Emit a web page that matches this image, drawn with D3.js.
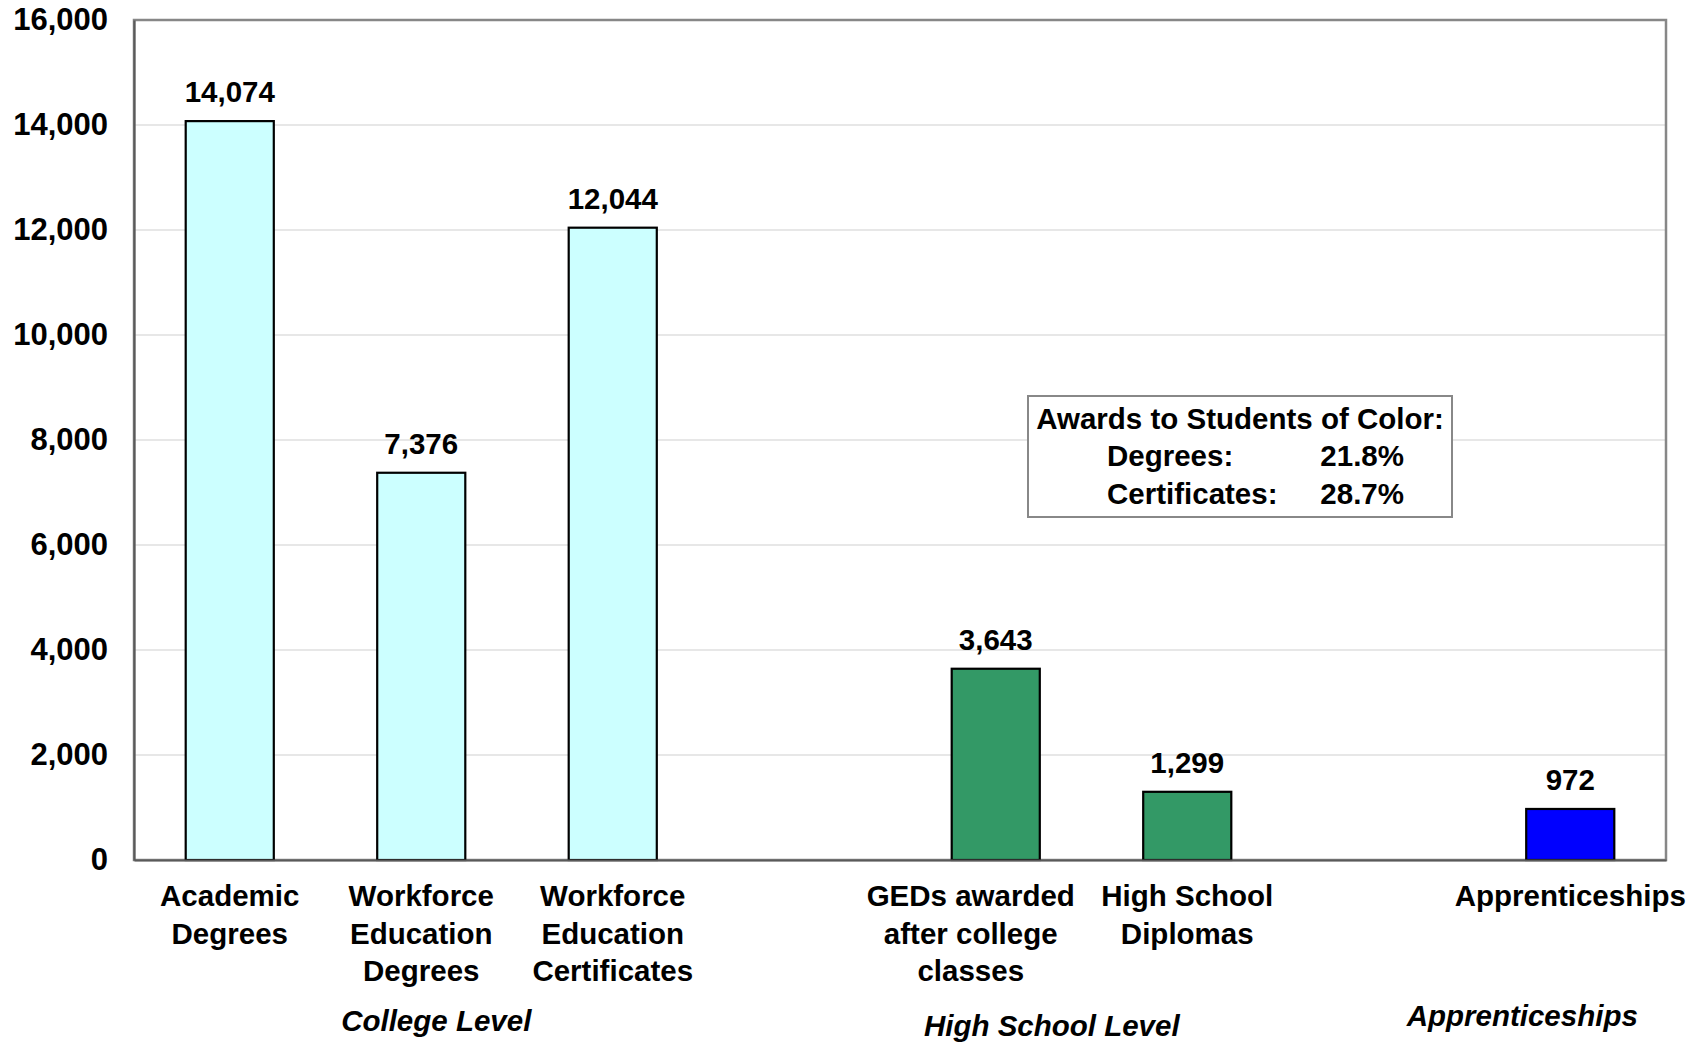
<!DOCTYPE html>
<html>
<head>
<meta charset="utf-8">
<script src="https://cdn.jsdelivr.net/npm/d3@7"></script>
<style>
  html, body { margin: 0; padding: 0; background: #fff; }
  svg { display: block; font-family: Arial, "Liberation Sans", Helvetica, sans-serif; }
</style>
</head>
<body>
<svg id="chart" width="1702" height="1044"></svg>
<script>
// ---- data ----
const categories = ["Academic Degrees", "Workforce Education Degrees", "Workforce Education Certificates", "gap1",
                    "GEDs awarded after college classes", "High School Diplomas", "gap2", "Apprenticeships"];
const categoryLines = [["Academic", "Degrees"], ["Workforce", "Education", "Degrees"], ["Workforce", "Education", "Certificates"], [],
                       ["GEDs awarded", "after college", "classes"], ["High School", "Diplomas"], [], ["Apprenticeships"]];
const values = [14074, 7376, 12044, null, 3643, 1299, null, 972];
const barColors = ["#CCFFFF", "#CCFFFF", "#CCFFFF", null, "#339966", "#339966", null, "#0000FF"];
const yTicks = [0, 2000, 4000, 6000, 8000, 10000, 12000, 14000, 16000];
const groupLabels = ["College Level", "High School Level", "Apprenticeships"];
const boxTitle = "Awards to Students of Color:";
const boxRows = ["Degrees:", "Certificates:"];
const boxValues = ["21.8%", "28.7%"];

// ---- layout ----
const W = 1702, H = 1044;
const margin = { top: 20, right: 36, bottom: 184, left: 134 };
const iw = W - margin.left - margin.right;
const ih = H - margin.top - margin.bottom;
const FS = 29.5;

const svg = d3.select("#chart");
const g = svg.append("g").attr("transform", `translate(${margin.left},${margin.top})`);

const x = d3.scaleBand().domain(categories).range([0, iw]).paddingInner(0.54).paddingOuter(0.27);
const y = d3.scaleLinear().domain([0, 16000]).range([ih, 0]);

// gridlines
g.append("g").selectAll("line").data(yTicks.filter(t => t > 0 && t < 16000)).join("line")
  .attr("x1", 0).attr("x2", iw)
  .attr("y1", d => y(d)).attr("y2", d => y(d))
  .attr("stroke", "#cfcfcf").attr("stroke-width", 1.2);

// plot frame (top / right)
g.append("rect").attr("x", 0).attr("y", 0).attr("width", iw).attr("height", ih)
  .attr("fill", "none").attr("stroke", "#878787").attr("stroke-width", 2.5);

// bars
const data = categories.map((c, i) => ({ c, v: values[i], color: barColors[i], lines: categoryLines[i] }));
const barData = data.filter(d => d.v != null);
g.append("g").selectAll("rect").data(barData).join("rect")
  .attr("x", d => x(d.c))
  .attr("y", d => y(d.v))
  .attr("width", x.bandwidth())
  .attr("height", d => y(0) - y(d.v))
  .attr("fill", d => d.color)
  .attr("stroke", "#000").attr("stroke-width", 2.2);

// value labels
g.append("g").selectAll("text").data(barData).join("text")
  .attr("x", d => x(d.c) + x.bandwidth() / 2)
  .attr("y", d => y(d.v) - 19)
  .attr("text-anchor", "middle")
  .attr("font-size", FS).attr("font-weight", "bold").attr("fill", "#000")
  .text(d => d3.format(",")(d.v));

// y axis
const yAxis = d3.axisLeft(y).tickValues(yTicks).tickFormat(d3.format(",")).tickSize(0).tickPadding(26);
const ya = g.append("g").call(yAxis);
ya.select(".domain").attr("stroke", "#5a5a5a").attr("stroke-width", 2.2);
ya.selectAll("text").attr("font-size", 31).attr("font-weight", "bold").attr("fill", "#000")
  .attr("font-family", "Arial, 'Liberation Sans', sans-serif");

// x axis
const xAxis = d3.axisBottom(x).tickSize(0).tickFormat("");
const xa = g.append("g").attr("transform", `translate(0,${ih})`).call(xAxis);
xa.select(".domain").attr("stroke", "#5a5a5a").attr("stroke-width", 2.2);

// category labels (multi-line)
const labelOffsets = { "GEDs awarded after college classes": -25 };
const catG = g.append("g");
data.forEach(d => {
  if (!d.lines.length) return;
  const t = catG.append("text")
    .attr("text-anchor", "middle")
    .attr("font-size", FS).attr("font-weight", "bold").attr("fill", "#000")
    .attr("transform", `translate(${x(d.c) + x.bandwidth() / 2 + (labelOffsets[d.c] || 0)},${ih + 46})`);
  d.lines.forEach((ln, j) => t.append("tspan").attr("x", 0).attr("y", j * 37.5).text(ln));
});

// group labels (free-floating italic)
const groupPos = [
  { cx: x(categories[1]) + x.bandwidth() / 2 + 15, by: 1031 },
  { cx: x(categories[4]) + x.bandwidth() / 2 + 56, by: 1036 },
  { cx: x(categories[7]) + x.bandwidth() / 2 - 48, by: 1026 }
];
svg.append("g").selectAll("text").data(groupLabels).join("text")
  .attr("x", (d, i) => margin.left + groupPos[i].cx)
  .attr("y", (d, i) => groupPos[i].by)
  .attr("text-anchor", "middle")
  .attr("font-size", FS).attr("font-weight", "bold").attr("font-style", "italic").attr("fill", "#000")
  .text(d => d);

// annotation box
const box = svg.append("g").attr("transform", "translate(1028,396)");
box.append("rect").attr("width", 424).attr("height", 121)
  .attr("fill", "#fff").attr("stroke", "#888").attr("stroke-width", 2);
box.append("text").attr("x", 212).attr("y", 33).attr("text-anchor", "middle")
  .attr("font-size", FS).attr("font-weight", "bold").text(boxTitle);
boxRows.forEach((r, i) => {
  box.append("text").attr("x", 79).attr("y", 70 + i * 37.5)
    .attr("font-size", FS).attr("font-weight", "bold").text(r);
  box.append("text").attr("x", 376).attr("y", 70 + i * 37.5).attr("text-anchor", "end")
    .attr("font-size", FS).attr("font-weight", "bold").text(boxValues[i]);
});
</script>
</body>
</html>
